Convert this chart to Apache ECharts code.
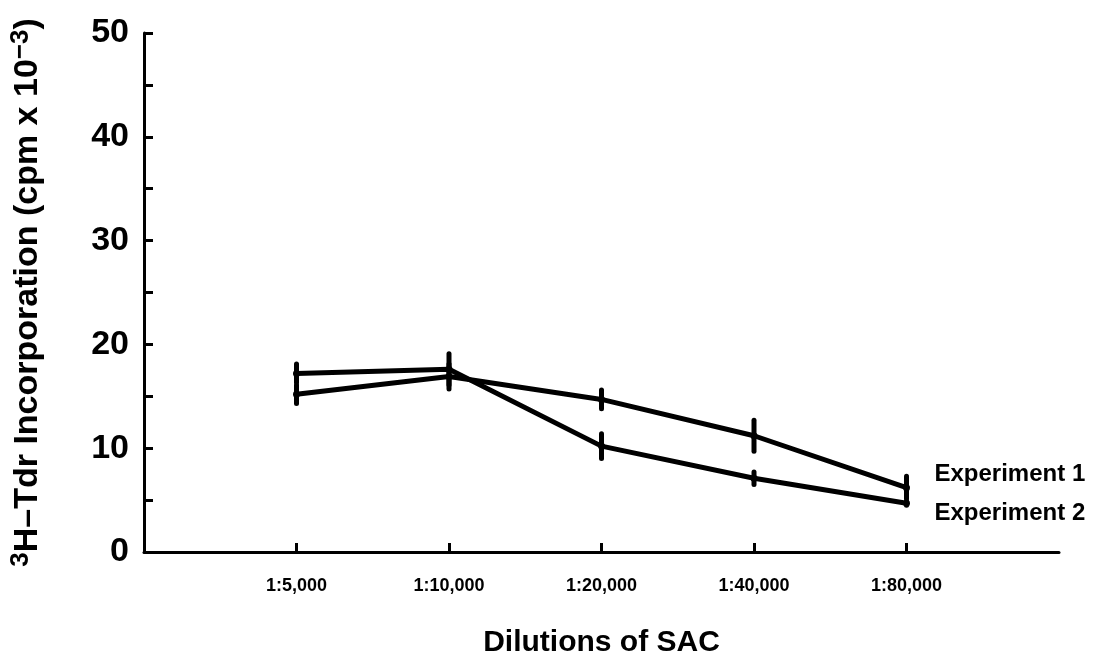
<!DOCTYPE html>
<html>
<head>
<meta charset="utf-8">
<script src="https://cdn.jsdelivr.net/npm/echarts@6/dist/echarts.min.js"></script>
<style>
  html, body { margin: 0; padding: 0; background: #fff; }
  #container { width: 1105px; height: 666px; }
</style>
</head>
<body>
<div id="container"></div>
<script>
// dilutions on the x axis (placed at positions 1..5)
const dilutions = ['1:5,000', '1:10,000', '1:20,000', '1:40,000', '1:80,000'];
// 3H-Tdr incorporation (cpm x 10^-3)
const exp1 = [15.2, 16.9, 14.7, 11.2, 6.2];
const exp1Err = [0.9, 1.2, 0.9, 1.5, 1.1];
const exp2 = [17.2, 17.6, 10.2, 7.1, 4.7];
const exp2Err = [0.9, 1.5, 1.2, 0.6, 0.2];
const yTicks = [0, 10, 20, 30, 40, 50];

const font = 'Liberation Sans, Arial, sans-serif';

function pts(vals) {
  return vals.map((v, i) => [i + 1, v]);
}
function errs(vals, e) {
  return vals.map((v, i) => [i + 1, v - e[i], v + e[i]]);
}

var dom = document.getElementById('container');
var myChart = echarts.init(dom, null, { renderer: 'canvas' });

function errorBars(name, data) {
  return {
    type: 'custom',
    name: name,
    silent: true,
    z: 3,
    renderItem: function (params, api) {
      const x = api.value(0);
      const lo = api.coord([x, api.value(1)]);
      const hi = api.coord([x, api.value(2)]);
      return {
        type: 'line',
        shape: { x1: lo[0], y1: lo[1], x2: hi[0], y2: hi[1] },
        style: { stroke: '#000', lineWidth: 5, lineCap: 'round' }
      };
    },
    data: data
  };
}

var option = {
  animation: false,
  grid: { left: 143, right: 46, top: 33, bottom: 114 },
  xAxis: {
    type: 'value',
    min: 0,
    max: 6,
    interval: 1,
    splitLine: { show: false },
    axisLine: { lineStyle: { color: '#000', width: 3 } },
    axisTick: {
      inside: true,
      length: 9,
      customValues: [1, 2, 3, 4, 5],
      lineStyle: { color: '#000', width: 3 }
    },
    axisLabel: {
      customValues: [1, 2, 3, 4, 5],
      margin: 25,
      color: '#000',
      fontFamily: 'Liberation Sans Narrow, Liberation Sans, Arial',
      fontWeight: 'bold',
      fontSize: 18,
      formatter: function (v) { return dilutions[v - 1] || ''; }
    },
    name: 'Dilutions of SAC',
    nameLocation: 'middle',
    nameGap: 76,
    nameTextStyle: { color: '#000', fontFamily: font, fontWeight: 'bold', fontSize: 30 }
  },
  yAxis: {
    type: 'value',
    min: 0,
    max: 50,
    interval: 5,
    splitLine: { show: false },
    axisLine: { show: true, lineStyle: { color: '#000', width: 3 } },
    axisTick: { show: true, inside: true, length: 9, lineStyle: { color: '#000', width: 3 } },
    axisLabel: {
      margin: 15,
      color: '#000',
      fontFamily: font,
      fontWeight: 'bold',
      fontSize: 34,
      formatter: function (v) { return yTicks.indexOf(v) >= 0 ? String(v) : ''; }
    },
    name: '{sup|3}{b|H\u2013Tdr Incorporation (cpm x 10}{sup|\u22123}{b|)}',
    nameLocation: 'middle',
    nameGap: 96,
    nameTextStyle: {
      rich: {
        b: { color: '#000', fontFamily: font, fontWeight: 'bold', fontSize: 34, lineHeight: 40 },
        sup: { color: '#000', fontFamily: font, fontWeight: 'bold', fontSize: 26, verticalAlign: 'top', lineHeight: 40 }
      }
    }
  },
  series: [
    {
      name: 'Experiment 1',
      type: 'line',
      data: pts(exp1),
      symbol: 'circle',
      symbolSize: 7,
      itemStyle: { color: '#000' },
      lineStyle: { color: '#000', width: 5 },
      endLabel: {
        show: true,
        formatter: '{a}',
        distance: 28,
        offset: [0, -13],
        color: '#000',
        fontFamily: font,
        fontWeight: 'bold',
        fontSize: 24
      }
    },
    {
      name: 'Experiment 2',
      type: 'line',
      data: pts(exp2),
      symbol: 'circle',
      symbolSize: 7,
      itemStyle: { color: '#000' },
      lineStyle: { color: '#000', width: 5 },
      endLabel: {
        show: true,
        formatter: '{a}',
        distance: 28,
        offset: [0, 10],
        color: '#000',
        fontFamily: font,
        fontWeight: 'bold',
        fontSize: 24
      }
    },
    errorBars('Experiment 1 SE', errs(exp1, exp1Err)),
    errorBars('Experiment 2 SE', errs(exp2, exp2Err))
  ]
};

if (option && typeof option === 'object') {
  myChart.setOption(option);
}
</script>
</body>
</html>
